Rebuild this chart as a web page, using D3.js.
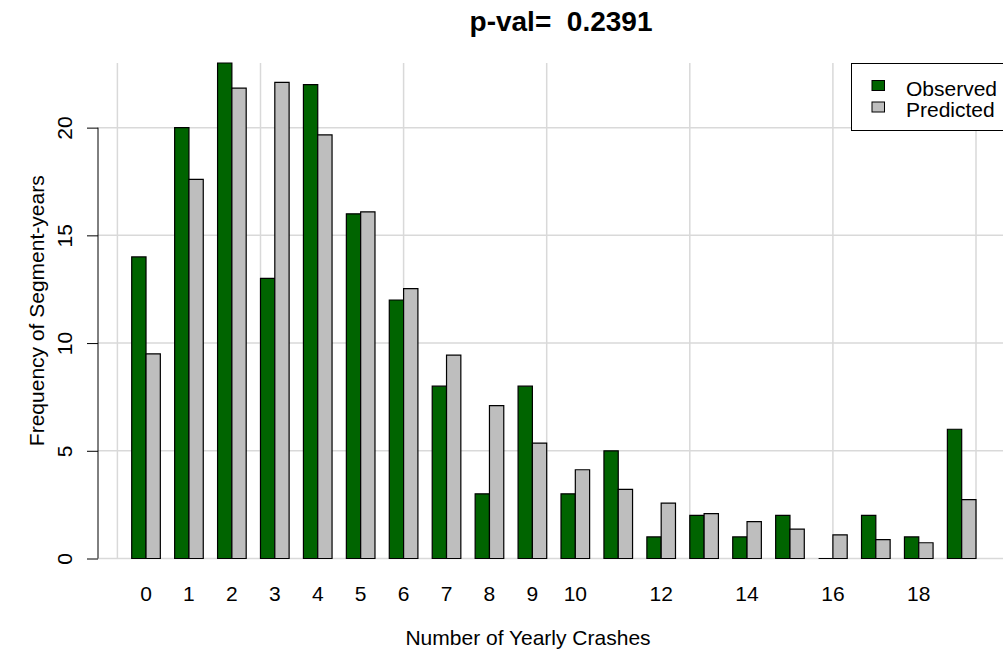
<!DOCTYPE html>
<html>
<head>
<meta charset="utf-8">
<script src="https://cdn.jsdelivr.net/npm/d3@7"></script>
<style>
  html, body { margin: 0; padding: 0; background: #fff; }
  svg { display: block; }
  text { font-family: "Liberation Sans", Arial, Helvetica, sans-serif; fill: #000; }
</style>
</head>
<body>
<svg id="chart" width="1003" height="652"></svg>
<script>
// ---- data ----
const categories = ["0","1","2","3","4","5","6","7","8","9","10","11","12","13","14","15","16","17","18","19"];
const observed  = [14, 20, 23, 13, 22, 16, 12, 8, 3, 8, 3, 5, 1, 2, 1, 2, 0, 2, 1, 6];
const predicted = [9.5, 17.6, 21.83, 22.1, 19.66, 16.09, 12.53, 9.44, 7.1, 5.36, 4.12, 3.21, 2.57, 2.08, 1.71, 1.36, 1.1, 0.88, 0.73, 2.73];
const shownTickLabels = ["0","1","2","3","4","5","6","7","8","9","10","12","14","16","18"];
const yTicks = [0, 5, 10, 15, 20];
const seriesNames = ["Observed", "Predicted"];
const seriesColors = ["#006400", "#BEBEBE"];
const titleText = "p-val=  0.2391";
const xTitle = "Number of Yearly Crashes";
const yTitle = "Frequency of Segment-years";

// ---- layout ----
const plot = { left: 98, right: 1026, top: 63, bottom: 558.5 };
const fs = 21;
const svg = d3.select("#chart");

const nUnits = categories.length * 3;
const x = d3.scaleLinear().domain([0, nUnits]).range([117.4, 976]);
const yMax = d3.max(observed.concat(predicted));
const y = d3.scaleLinear().domain([0, Math.ceil(yMax)]).range([plot.bottom, plot.top]);

const gridColor = "#d9d9d9";

// grid
const g = svg.append("g");
g.selectAll("line.vg").data(d3.range(0, nUnits + 1, 10)).join("line")
  .attr("x1", d => x(d)).attr("x2", d => x(d))
  .attr("y1", plot.top).attr("y2", plot.bottom)
  .attr("stroke", gridColor).attr("stroke-width", 1.5);
g.selectAll("line.hg").data(yTicks).join("line")
  .attr("x1", plot.left).attr("x2", plot.right)
  .attr("y1", d => y(d)).attr("y2", d => y(d))
  .attr("stroke", gridColor).attr("stroke-width", 1.5);

// bars (paths so that zero-height bars still show their outline, as in R)
const barW = x(1) - x(0);
const series = [observed, predicted];
series.forEach((vals, s) => {
  svg.append("g").selectAll("path").data(vals).join("path")
    .attr("d", (d, i) => {
      const x0 = x(3 * i + 1 + s), y0 = y(0), y1 = y(d);
      return `M${x0},${y0}H${x0 + barW}V${y1}H${x0}Z`;
    })
    .attr("fill", seriesColors[s])
    .attr("stroke", "#000")
    .attr("stroke-width", 1.2);
});

// y axis
const yAxis = d3.axisLeft(y).tickValues(yTicks).tickSize(11).tickSizeOuter(0).tickFormat(d3.format("d"));
const ya = svg.append("g").attr("transform", `translate(${plot.left},0)`).call(yAxis);
ya.select(".domain").attr("d", `M0,${y(0)}V${y(20)}`).attr("stroke", "#000").attr("stroke-width", 1);
ya.selectAll(".tick line").attr("stroke", "#000");
ya.selectAll(".tick text")
  .attr("font-size", fs)
  .attr("text-anchor", "middle")
  .attr("x", 0).attr("y", 0).attr("dy", 0)
  .attr("transform", "translate(-26,0) rotate(-90)");

// x labels
svg.append("g").selectAll("text").data(categories).join("text")
  .filter(d => shownTickLabels.includes(d))
  .attr("x", (d) => x(3 * categories.indexOf(d) + 2))
  .attr("y", 601)
  .attr("text-anchor", "middle")
  .attr("font-size", fs)
  .text(d => d);

// axis titles
svg.append("text").attr("x", 528).attr("y", 645)
  .attr("text-anchor", "middle").attr("font-size", fs).text(xTitle);
svg.append("text").attr("transform", `translate(44,${(plot.top + plot.bottom) / 2}) rotate(-90)`)
  .attr("text-anchor", "middle").attr("font-size", fs).text(yTitle);

// title
svg.append("text").attr("x", 561).attr("y", 31)
  .attr("text-anchor", "middle").attr("font-size", 28).attr("font-weight", "bold")
  .attr("xml:space", "preserve").style("white-space", "pre").text(titleText);

// legend
const lg = svg.append("g");
lg.append("rect").attr("x", 851.5).attr("y", 63.5).attr("width", 170).attr("height", 67)
  .attr("fill", "#fff").attr("stroke", "#000").attr("stroke-width", 1);
seriesNames.forEach((name, i) => {
  lg.append("rect").attr("x", 872).attr("y", 80.5 + i * 21.5).attr("width", 12.5).attr("height", 10)
    .attr("fill", seriesColors[i]).attr("stroke", "#000").attr("stroke-width", 1);
  lg.append("text").attr("x", 906).attr("y", 95.5 + i * 21.5).attr("font-size", fs).text(name);
});
</script>
</body>
</html>
